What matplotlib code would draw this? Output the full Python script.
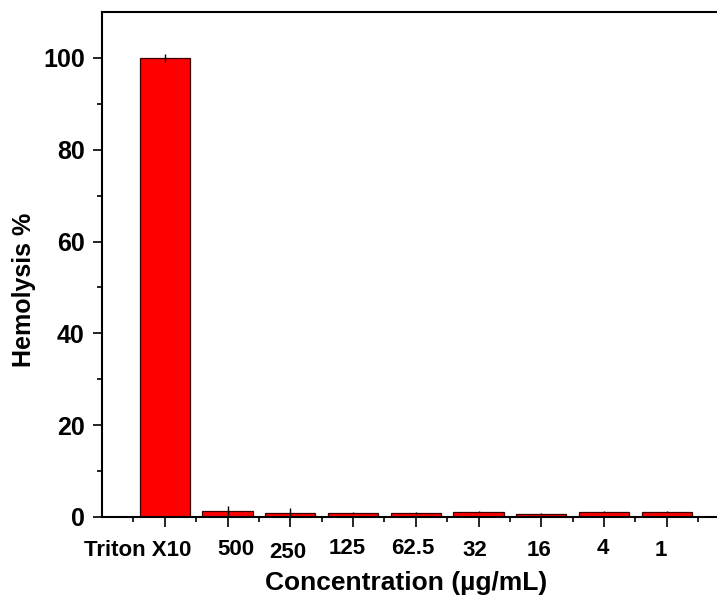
import matplotlib
matplotlib.use("Agg")
import matplotlib.pyplot as plt
import numpy as np

# Hemolysis data
categories = ["Triton X10", "500", "250", "125", "62.5", "32", "16", "4", "1"]
hemolysis = [100.0, 1.4, 0.95, 0.9, 0.85, 1.15, 0.7, 1.15, 1.15]
errors = [0.8, 1.1, 1.0, 0.15, 0.15, 0.15, 0.15, 0.15, 0.15]

y_ticks = [0, 20, 40, 60, 80, 100]

# per-label nudges (data units along x, pixels below the axis)
label_dx = [-0.434, 0.135, -0.04, -0.09, -0.045, -0.06, -0.03, -0.02, -0.09]
label_dy_px = [33, 32.5, 35, 31.5, 31.5, 33.5, 33.5, 31.5, 33.5]

plt.rcParams["font.family"] = ["Liberation Sans", "DejaVu Sans"]
plt.rcParams["font.weight"] = "bold"

fig = plt.figure(figsize=(7.17, 5.96), dpi=100)
ax = fig.add_axes([102 / 717, 79 / 596, 615 / 717, 505 / 596])

x = np.arange(1, len(categories) + 1)
ax.bar(x, hemolysis, width=0.8, color="#ff0000", edgecolor="#3a0000",
       linewidth=0.9, zorder=2)
ax.errorbar(x, hemolysis, yerr=errors, fmt="none", ecolor="black",
            elinewidth=1.0, capsize=0, zorder=3)

ax.set_xlim(0, 615 / 62.75)
ax.set_ylim(0, 110)

ax.spines["right"].set_visible(False)
for s in ["left", "bottom", "top"]:
    ax.spines[s].set_linewidth(1.5)

ax.set_yticks(y_ticks)
ax.set_yticks(np.arange(10, 110, 20), minor=True)
ax.tick_params(axis="y", which="major", direction="out", length=6.5,
               width=1.2, labelsize=18, pad=6)
ax.tick_params(axis="y", which="minor", direction="out", length=3.5, width=1.2)

ax.set_xticks(x)
ax.set_xticks(np.arange(0, len(categories) + 1) + 0.5, minor=True)
ax.set_xticklabels([])
ax.tick_params(axis="x", which="major", direction="out", length=7.5,
               width=1.2, top=False)
ax.tick_params(axis="x", which="minor", direction="out", length=3.5,
               width=1.2, top=False)

for yl in ax.get_yticklabels():
    yl.set_fontweight("bold")

for xi, lab, dx, dy in zip(x, categories, label_dx, label_dy_px):
    ax.annotate(lab, xy=(xi + dx, 0), xycoords=("data", "axes fraction"),
                xytext=(0, -dy * 0.72), textcoords="offset points",
                ha="center", va="center", fontsize=16, fontweight="bold")

fig.text(406 / 717, 1 - 590 / 596, "Concentration (µg/mL)", ha="center",
         va="baseline", fontsize=19, fontweight="bold")
fig.text(24 / 717, 1 - 290 / 596, "Hemolysis %", ha="center", va="center",
         rotation=90, fontsize=18, fontweight="bold")

fig.savefig("out.png", dpi=100)
